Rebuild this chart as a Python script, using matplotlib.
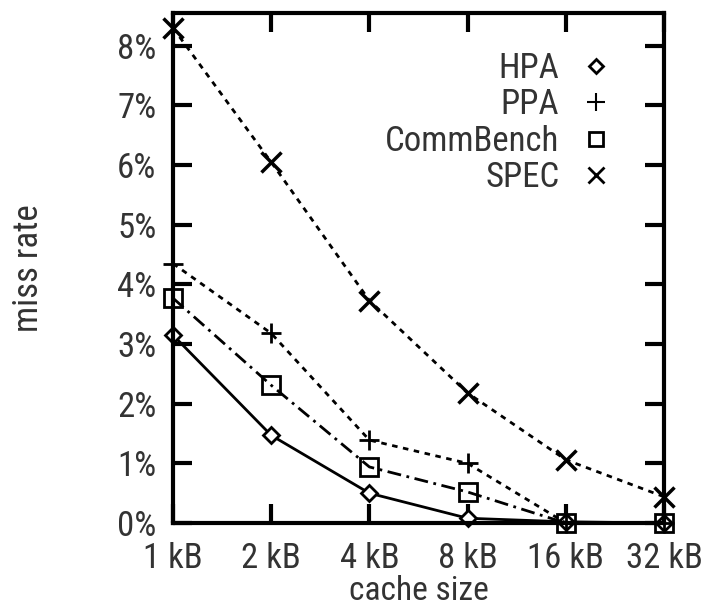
import matplotlib.pyplot as plt
from matplotlib.lines import Line2D

plt.rcParams['font.family'] = ['Roboto Condensed', 'Archivo Narrow', 'Liberation Sans', 'DejaVu Sans']

sizes = ['1 kB', '2 kB', '4 kB', '8 kB', '16 kB', '32 kB']
hpa = [3.15, 1.47, 0.50, 0.08, 0.02, 0.0]
ppa = [4.35, 3.18, 1.39, 1.00, 0.0, 0.0]
commbench = [3.77, 2.31, 0.94, 0.52, 0.0, 0.0]
spec = [8.30, 6.05, 3.73, 2.18, 1.06, 0.44]

x = list(range(len(sizes)))
txt = '#333333'

fig = plt.figure(figsize=(7.07, 6.11), dpi=100)
ax = fig.add_axes([0.2447, 0.144, 0.6945, 0.8347])

ax.plot(x, hpa, color='black', lw=2, ls='-', marker='D', ms=8, mfc='white', mew=2, clip_on=False)
ax.plot(x, ppa, color='black', lw=2, ls=(0, (2, 2)), marker='+', ms=15, mew=2, clip_on=False)
ax.plot(x, commbench, color='black', lw=2, ls=(0, (5, 2, 1, 2)), marker='s', ms=13, mfc='none', mew=2, clip_on=False)
ax.plot(x, spec, color='black', lw=2, ls=(0, (2, 2)), marker='x', ms=15, mew=2.5, clip_on=False)

ax.set_xlim(0, 5)
ax.set_ylim(0, 8.55)
ax.set_xticks(x)
ax.set_xticklabels(sizes)
ax.set_yticks(range(9))
ax.set_yticklabels([f'{i}%' for i in range(9)])
ax.tick_params(direction='in', length=14, width=3, top=True, right=True,
               labelsize=25, colors='black', labelcolor=txt)
ax.tick_params(axis='y', pad=12)
ax.tick_params(axis='x', pad=14)
for s in ax.spines.values():
    s.set_linewidth(3)

ax.set_xlabel('cache size', fontsize=24, color=txt, labelpad=0)
ax.set_ylabel('miss rate', fontsize=25, color=txt, labelpad=52)

handles = [
    Line2D([], [], color='black', ls='none', marker='D', ms=7, mfc='white', mew=2),
    Line2D([], [], color='black', ls='none', marker='+', ms=13, mew=1.5),
    Line2D([], [], color='black', ls='none', marker='s', ms=10, mfc='none', mew=2),
    Line2D([], [], color='black', ls='none', marker='x', ms=11, mew=2),
]
leg = ax.legend(handles, ['HPA', 'PPA', 'CommBench', 'SPEC'], loc='upper right',
                bbox_to_anchor=(0.96, 0.985), frameon=False, markerfirst=False,
                fontsize=25, handlelength=1, handletextpad=0.55, labelspacing=0.1)
for t in leg.get_texts():
    t.set_color(txt)

fig.savefig('out.png', dpi=100)
